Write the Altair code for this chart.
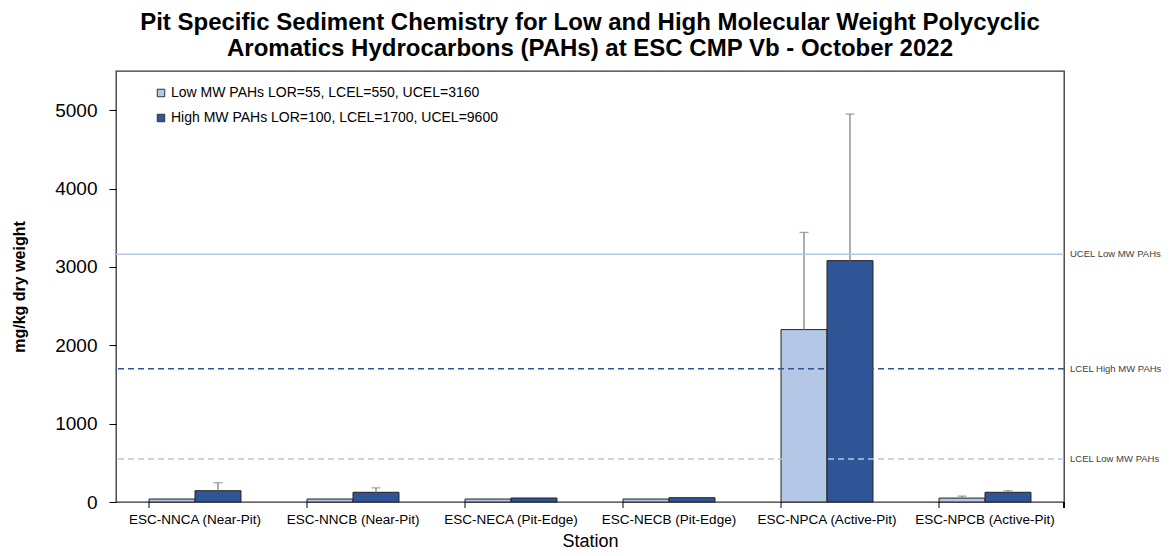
import altair as alt
import pandas as pd

stations = ["ESC-NNCA (Near-Pit)", "ESC-NNCB (Near-Pit)", "ESC-NECA (Pit-Edge)",
            "ESC-NECB (Pit-Edge)", "ESC-NPCA (Active-Pit)", "ESC-NPCB (Active-Pit)"]
series_names = ["Low MW PAHs LOR=55, LCEL=550, UCEL=3160",
                "High MW PAHs LOR=100, LCEL=1700, UCEL=9600"]
low_vals = [38, 38, 38, 38, 2200, 50]
low_err = [0, 0, 0, 0, 1240, 25]
high_vals = [144, 124, 51, 55, 3080, 124]
high_err = [102, 55, 0, 0, 1870, 21]

thr_names = ["UCEL Low MW PAHs", "LCEL High MW PAHs", "LCEL Low MW PAHs"]
thr_values = [3160, 1700, 550]

LIGHT = "#B4C7E7"
DARK = "#2F5597"
thr_colors = [LIGHT, DARK, LIGHT]
thr_dash = [[1, 0], [6, 4], [6, 4]]

W, H = 948, 431
FONT = "Liberation Sans"

rows = []
for i, s in enumerate(stations):
    rows.append({"station": s, "series": series_names[0], "value": low_vals[i],
                 "err": low_err[i], "upper": low_vals[i] + low_err[i]})
    rows.append({"station": s, "series": series_names[1], "value": high_vals[i],
                 "err": high_err[i], "upper": high_vals[i] + high_err[i]})
df = pd.DataFrame(rows)
thr = pd.DataFrame({"name": thr_names, "value": thr_values})
st = pd.DataFrame({"station": stations})

yscale = alt.Scale(domain=[0, 5500], nice=False)
xenc = alt.X("station:N", sort=stations,
             scale=alt.Scale(paddingInner=0.418, paddingOuter=0.209),
             axis=alt.Axis(title="Station", labelAngle=0, ticks=False, domain=False,
                           labelFontSize=13.5, labelPadding=10, labelColor="black",
                           titleFontSize=18, titleFontWeight="normal", titlePadding=7,
                           titleColor="black", labelFont=FONT, titleFont=FONT))
xoff = alt.XOffset("series:N", sort=series_names, scale=alt.Scale(paddingInner=0))
yenc = alt.Y("value:Q", scale=yscale,
             axis=alt.Axis(title="mg/kg dry weight", values=[0, 1000, 2000, 3000, 4000, 5000],
                           format="d", grid=False, domain=False, tickColor="black", tickSize=7,
                           labelFontSize=19, labelPadding=12, labelColor="black",
                           titleFontSize=16, titleFontWeight="bold", titlePadding=27,
                           titleColor="black", labelFont=FONT, titleFont=FONT))

bars = alt.Chart(df).mark_bar(stroke="#222222", strokeWidth=1).encode(
    x=xenc, xOffset=xoff, y=yenc,
    color=alt.Color("series:N", sort=series_names,
                    scale=alt.Scale(domain=series_names, range=[LIGHT, DARK]),
                    legend=alt.Legend(title=None, orient="none", legendX=38, legendY=15,
                                      symbolType="square", symbolSize=56,
                                      symbolStrokeColor="#333333", symbolStrokeWidth=1,
                                      labelFontSize=14, labelFont=FONT, labelColor="black",
                                      labelLimit=0, rowPadding=11, labelOffset=3, padding=0))
)

errs = alt.Chart(df).transform_filter("datum.err > 0").mark_rule(
    color="#808080", strokeWidth=1.3).encode(
    x=alt.X("station:N", sort=stations), xOffset=alt.XOffset("series:N", sort=series_names),
    y=alt.Y("value:Q", scale=yscale), y2="upper:Q")

caps = alt.Chart(df).transform_filter("datum.err > 0").mark_tick(
    color="#808080", size=9, thickness=1.3).encode(
    x=alt.X("station:N", sort=stations), xOffset=alt.XOffset("series:N", sort=series_names),
    y=alt.Y("upper:Q", scale=yscale))

lines = []
for n, c, d in zip(thr_names, thr_colors, thr_dash):
    lines.append(alt.Chart(thr).transform_filter(alt.datum.name == n).mark_rule(
        color=c, strokeWidth=1.5, strokeDash=d).encode(y=alt.Y("value:Q", scale=yscale)))

labels = alt.Chart(thr).mark_text(align="left", baseline="middle", fontSize=9.5,
                                  font=FONT, color="#404040").encode(
    y=alt.Y("value:Q", scale=yscale), x=alt.value(W + 6), text="name:N")

xticks = alt.Chart(st).mark_rule(color="black").encode(
    x=alt.X("station:N", sort=stations, bandPosition=0),
    y=alt.value(H), y2=alt.value(H + 6))
xtick_end = alt.Chart(st).mark_rule(color="black").encode(
    x=alt.value(W), y=alt.value(H), y2=alt.value(H + 6))

chart = alt.layer(bars, errs, caps, *lines, labels, xticks, xtick_end).properties(
    width=W, height=H,
    title=alt.Title(["Pit Specific Sediment Chemistry for Low and High Molecular Weight Polycyclic",
                     "Aromatics Hydrocarbons (PAHs) at ESC CMP Vb - October 2022"],
                    fontSize=24, font=FONT, fontWeight="bold", anchor="middle",
                    offset=10, lineHeight=26, color="black"),
    autosize=alt.AutoSizeParams(type="none"),
    padding={"left": 108, "top": 63, "right": 97, "bottom": 53},
).configure(background="white").configure_view(stroke="#333333", strokeWidth=1.3)

chart.save("out.html", embed_options={"renderer": "svg", "actions": False})
